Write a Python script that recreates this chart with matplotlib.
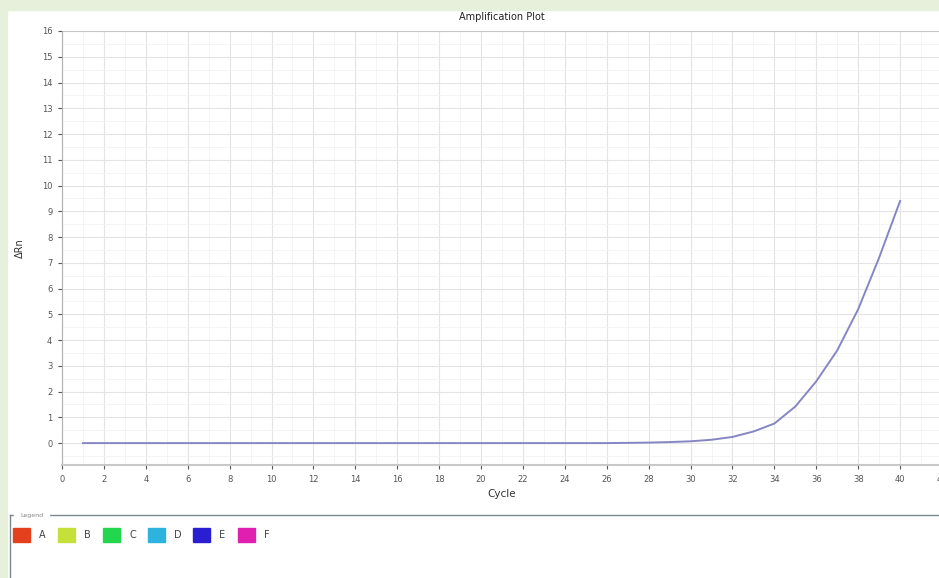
import numpy as np
import matplotlib.pyplot as plt
from matplotlib.patches import Rectangle
from matplotlib.ticker import MultipleLocator

# amplification curve, one well
cycles = np.arange(1, 41)
delta_rn = [0.0, 0.0, 0.0, 0.0, 0.0, 0.0, 0.0, 0.0, 0.0, 0.0,
            0.0, 0.0, 0.0, 0.0, 0.0, 0.0, 0.0, 0.0, 0.0, 0.0,
            0.0, 0.0, 0.0, 0.0, 0.0, 0.0, 0.01, 0.02, 0.04, 0.07,
            0.13, 0.24, 0.45, 0.76, 1.42, 2.4, 3.6, 5.2, 7.2, 9.4]

legend_names = ['A', 'B', 'C', 'D', 'E', 'F']
legend_colors = ['#e4401e', '#c6e03a', '#22d64e', '#2eb2de', '#2a1ed2', '#e01eb0']

W, H = 939, 578
fig = plt.figure(figsize=(W / 100, H / 100), dpi=100, facecolor='white')

# light green frame at top and left
fig.add_artist(Rectangle((0, 1 - 10 / H), 1, 10 / H, transform=fig.transFigure,
                         color='#e7f0da', zorder=0))
fig.add_artist(Rectangle((0, 0), 7 / W, 1, transform=fig.transFigure,
                         color='#e7f0da', zorder=0))

# axes: left spine x=62, right beyond edge, top y=31, bottom y=465
x0, x1 = 62, 942
y0, y1 = 31, 465
ax = fig.add_axes([x0 / W, 1 - y1 / H, (x1 - x0) / W, (y1 - y0) / H])
ax.plot(cycles, delta_rn, color='#8686c4', lw=1.4)

ax.set_xlim(0, 42)
ax.set_ylim(-0.85, 16)
ax.xaxis.set_major_locator(MultipleLocator(2))
ax.xaxis.set_minor_locator(MultipleLocator(1))
ax.yaxis.set_major_locator(MultipleLocator(1))
ax.yaxis.set_minor_locator(MultipleLocator(0.5))
ax.grid(which='major', color='#e4e4e4', lw=0.8)
ax.grid(which='minor', color='#f2f2f2', lw=0.6)
ax.set_axisbelow(True)

for s in ['top', 'right']:
    ax.spines[s].set_visible(False)
ax.spines['left'].set_color('#b0b0b0')
ax.spines['bottom'].set_color('#c8c8c8')
ax.spines['bottom'].set_linewidth(1.5)
ax.axhline(16, color='#c8c8c8', lw=1.5, zorder=1)

ax.tick_params(which='major', labelsize=6, colors='#555555', length=3, pad=4)
ax.tick_params(which='minor', length=0)
ax.set_title('Amplification Plot', fontsize=7, color='#222222', pad=8)
ax.set_xlabel('Cycle', fontsize=7.5, color='#333333', labelpad=4)
ax.set_ylabel('ΔRn', fontsize=7, color='#333333', labelpad=12)

# legend box below the chart
ly = 1 - 515 / H
fig.add_artist(plt.Line2D([10 / W, 1], [ly, ly], transform=fig.transFigure,
                          color='#7a8a8a', lw=1))
fig.add_artist(plt.Line2D([10 / W, 10 / W], [0, ly], transform=fig.transFigure,
                          color='#7a8a8a', lw=1))
fig.text(20 / W, ly, 'Legend', fontsize=4.5, color='#888888', va='center',
         backgroundcolor='white')

iy = 1 - 535 / H
for i, (n, c) in enumerate(zip(legend_names, legend_colors)):
    sx = 13 + i * 45
    fig.add_artist(Rectangle((sx / W, iy - 7 / H), 17 / W, 14 / H,
                             transform=fig.transFigure, color=c))
    fig.text((sx + 26) / W, iy, n, fontsize=7, color='#444444', va='center')

fig.savefig('out.png', dpi=100, facecolor='white')
